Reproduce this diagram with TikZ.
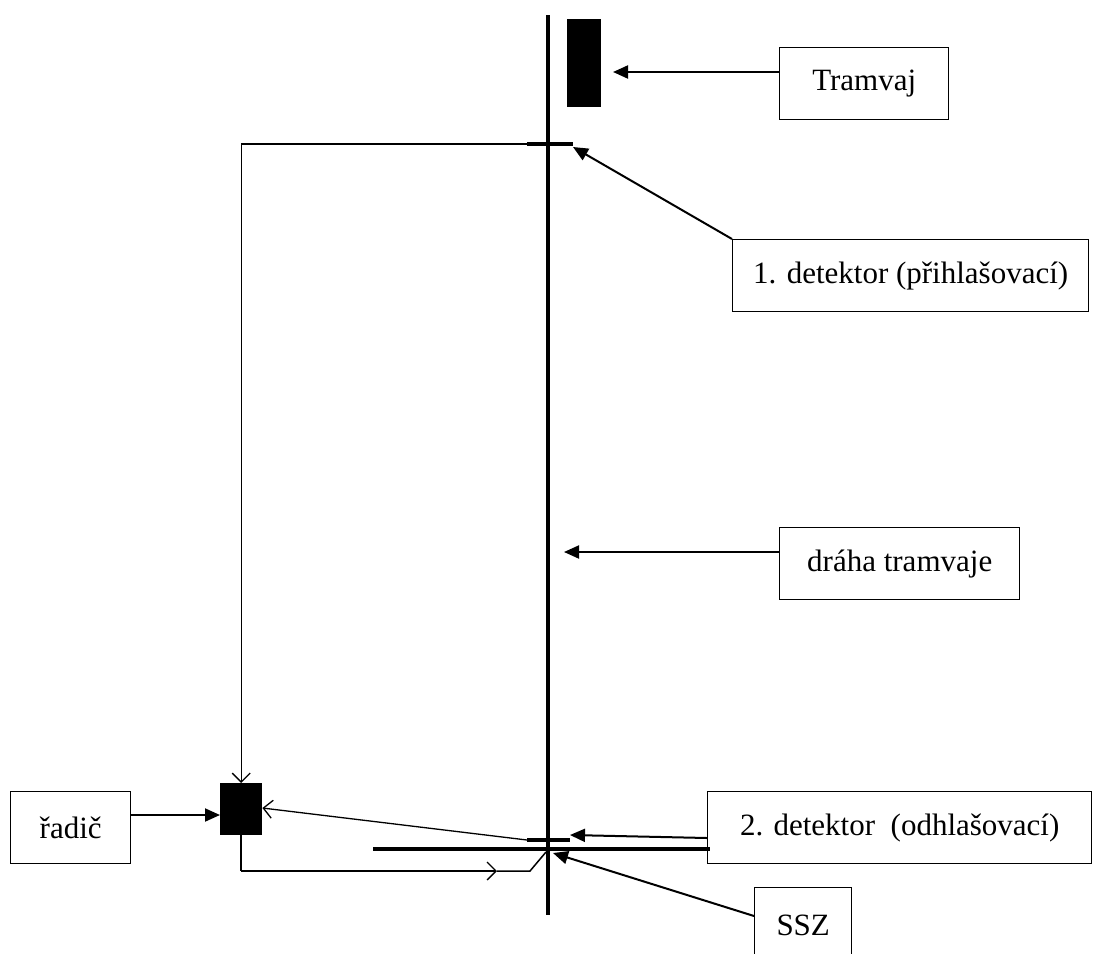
\documentclass[tikz,border=0pt]{standalone}
\usepackage{fontspec}
\setmainfont{Liberation Serif}
\usetikzlibrary{arrows.meta}
\begin{document}
\begin{tikzpicture}[x=1pt,y=-1pt,
  lbl/.style={draw=black,line width=1.4pt,rectangle,inner sep=0pt,anchor=north west,font=\fontsize{31}{34}\selectfont},
  blk/.style={fill=black,draw=none,rectangle,inner sep=0pt,anchor=north west},
  larrow/.style={line width=2pt,-{Triangle[length=15pt,width=13pt]}},
  thin/.style={line width=1.5pt},
  openarr/.style={line width=1.3pt,-{Straight Barb[length=9pt,width=18pt,line width=1.3pt]}},
  thick/.style={line width=4.5pt}]
\useasboundingbox (0,0) rectangle (1102,953);
\clip (0,0) rectangle (1102,953);
% track
\coordinate (trT) at (548,15);
\coordinate (trB) at (548,915);
\draw[thick] (trT) -- (trB);
% tram
\node[blk,minimum width=34pt,minimum height=88pt] (tram) at (567,19) {};
% detector 1
\coordinate (d1L) at (527,144);
\coordinate (d1R) at (573,144);
\draw[line width=4pt] (d1L) -- (d1R);
% detector 2
\coordinate (d2L) at (527,840);
\coordinate (d2R) at (570,840);
\draw[line width=4pt] (d2L) -- (d2R);
% stop line SSZ
\coordinate (sL) at (373,849);
\coordinate (sR) at (710,849);
\draw[thick] (sL) -- (sR);
% controller
\node[blk,minimum width=42pt,minimum height=52pt] (ctl) at (220,783) {};
% labels
\node[lbl,minimum width=169pt,minimum height=72pt] (lTram) at (779,47) {Tramvaj};
\node[lbl,minimum width=356pt,minimum height=72pt] (lD1) at (732,239) {1. detektor (přihlašovací)};
\node[lbl,minimum width=240pt,minimum height=72pt] (lTrack) at (779,527) {dráha tramvaje};
\node[lbl,minimum width=120pt,minimum height=72pt] (lCtl) at (10,791) {řadič};
\node[lbl,minimum width=384pt,minimum height=72pt] (lD2) at (707,791) {2. detektor\ \ (odhlašovací)};
\node[lbl,minimum width=97pt,minimum height=90pt] (lSSZ) at (754,887) {\raisebox{14pt}{SSZ}};
% label arrows
\coordinate (aTram) at (613,72);
\coordinate (aD1) at (573,147);
\coordinate (aTrack) at (564,552);
\coordinate (aD2) at (570,835);
\coordinate (aSSZ) at (553,853);
\draw[larrow] (lTram.west |- aTram) -- (aTram);
\draw[larrow] (lD1.north west) -- (aD1);
\draw[larrow] (lTrack.west |- aTrack) -- (aTrack);
\draw[larrow] (lCtl.east |- 0,815) -- (ctl.west |- 0,815);
\draw[larrow] (707,838) -- (aD2);
\draw[larrow] (754,916) -- (aSSZ);
% signal wires
\draw[thin] (d1L) -- (ctl.north |- d1L) coordinate (w1);
\draw[openarr] (w1) -- (ctl.north);
\draw[openarr] (d2L) -- (ctl.east |- 0,808);
\coordinate (w2) at (ctl.south |- 0,871);
\coordinate (w3) at (497,871);
\draw[thin] (ctl.south) -- (w2);
\draw[openarr] (w2) -- (w3);
\draw[thin] (w3) -- (530,871) -- (546,852);
\end{tikzpicture}
\end{document}
